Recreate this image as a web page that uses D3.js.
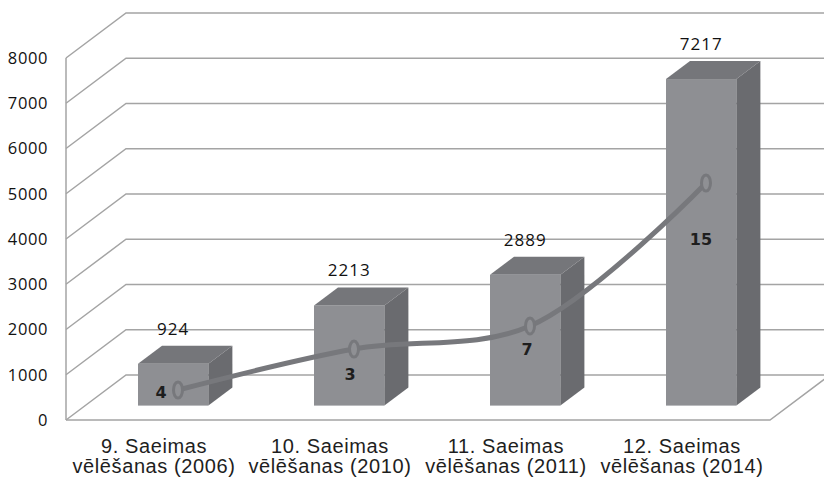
<!DOCTYPE html>
<html>
<head>
<meta charset="utf-8">
<script src="https://cdn.jsdelivr.net/npm/d3@7"></script>
<style>
  html, body { margin: 0; padding: 0; background: #ffffff; }
  svg { display: block; }
</style>
</head>
<body>
<svg id="chart" width="824" height="479"></svg>
<script>
// Election categories (two-line labels)
const categories = [
  ["9. Saeimas", "vēlēšanas (2006)"],
  ["10. Saeimas", "vēlēšanas (2010)"],
  ["11. Saeimas", "vēlēšanas (2011)"],
  ["12. Saeimas", "vēlēšanas (2014)"]
];
// Bar values
const barValues = [924, 2213, 2889, 7217];
// Smoothed trend line, in the same units as the bars
const trendValues = [265, 1170, 1680, 4840];
// Small counts written inside the bars
const innerCounts = [4, 3, 7, 15];
// Value axis ticks
const yTicks = [0, 1000, 2000, 3000, 4000, 5000, 6000, 7000, 8000];

const svg = d3.select("#chart");
const keys = categories.map((c, i) => i);

// Front plane scales
const x = d3.scaleBand().domain(keys).range([66, 770]).paddingInner(0.6).paddingOuter(0.3);
const y = d3.scaleLinear().domain([0, 8000]).range([420, 58]);

// Full depth of the 3-D box
const DX = 60, DY = -45;
const off = f => [f * DX, f * DY];

const gridColor = "#a4a4a4";
const g = svg.append("g");

// Left wall and back wall gridlines
yTicks.forEach(t => {
  const yf = y(t);
  g.append("path")
    .attr("d", `M${66},${yf} L${66 + DX},${yf + DY} L${830},${yf + DY}`)
    .attr("fill", "none").attr("stroke", gridColor).attr("stroke-width", 1.5);
});
// Left vertical axis edge
g.append("line").attr("x1", 66).attr("x2", 66).attr("y1", y(8000)).attr("y2", y(0))
  .attr("stroke", gridColor).attr("stroke-width", 1.5);
// Floor front and right edges
g.append("path")
  .attr("d", `M66,${y(0)} L770,${y(0)} L${770 + DX},${y(0) + DY}`)
  .attr("fill", "none").attr("stroke", gridColor).attr("stroke-width", 1.5);

// Tick labels
svg.append("g").selectAll("text").data(yTicks).join("text")
  .attr("x", 48).attr("y", d => y(d)).attr("dy", "0.35em")
  .attr("text-anchor", "end")
  .style("font-family", "'Open Sans', sans-serif").style("font-size", "16.5px")
  .style("letter-spacing", "0.6px").attr("fill", "#111")
  .text(d => d);

// Bars as boxes
const barFront = 0.32, barDepth = 0.40;
const [fx, fy] = off(barFront);
const [dx, dy] = off(barDepth);
const bw = x.bandwidth();
const bars = svg.append("g");
barValues.forEach((v, i) => {
  const x0 = x(i) + fx, x1 = x0 + bw;
  const yt = y(v) + fy, yb = y(0) + fy;
  // front
  bars.append("rect").attr("x", x0).attr("y", yt).attr("width", bw).attr("height", yb - yt)
    .attr("fill", "#8e8f93");
  // top
  bars.append("path").attr("d", `M${x0},${yt} L${x1},${yt} L${x1 + dx},${yt + dy} L${x0 + dx},${yt + dy}Z`)
    .attr("fill", "#75767a");
  // side
  bars.append("path").attr("d", `M${x1},${yt} L${x1 + dx},${yt + dy} L${x1 + dx},${yb + dy} L${x1},${yb}Z`)
    .attr("fill", "#6a6b6f");
});

// Value labels above the bars
svg.append("g").selectAll("text").data(barValues).join("text")
  .attr("x", (d, i) => x(i) + fx + bw / 2)
  .attr("y", d => y(d) + fy + dy - 11)
  .attr("text-anchor", "middle")
  .style("font-family", "'Open Sans', sans-serif").style("font-size", "17px")
  .style("letter-spacing", "1px").attr("fill", "#111")
  .text(d => d);

// Trend line on the mid plane of the boxes
const [lx, ly] = off(0.40);
const pts = trendValues.map((v, i) => [x(i) + bw / 2 + lx, y(v) + ly]);
const line = d3.line().curve(d3.curveCatmullRom.alpha(0.5));
svg.append("path").attr("d", line(pts))
  .attr("fill", "none").attr("stroke", "#77787c").attr("stroke-width", 5)
  .attr("stroke-linecap", "round");
svg.append("g").selectAll("ellipse").data(pts).join("ellipse")
  .attr("cx", d => d[0]).attr("cy", d => d[1])
  .attr("rx", 4.5).attr("ry", 8)
  .attr("fill", "#8f9094").attr("stroke", "#77787c").attr("stroke-width", 3);

// Counts inside the bars
const countOffsets = [[-17, 8], [-4, 31], [-3, 29], [-5, 62]];
svg.append("g").selectAll("text").data(innerCounts).join("text")
  .attr("x", (d, i) => pts[i][0] + countOffsets[i][0])
  .attr("y", (d, i) => pts[i][1] + countOffsets[i][1])
  .attr("text-anchor", "middle")
  .style("font-family", "'DejaVu Sans', sans-serif").style("font-size", "16px")
  .style("font-weight", "bold").attr("fill", "#1e1e1e")
  .text(d => d);

// Category labels
const cat = svg.append("g").selectAll("text").data(categories).join("text")
  .attr("x", (d, i) => x(i) + bw / 2)
  .attr("text-anchor", "middle")
  .style("font-family", "'Liberation Sans', Arial, sans-serif").style("font-size", "20px")
  .style("letter-spacing", "0.6px").attr("fill", "#1e1e1e");
cat.selectAll("tspan").data(d => d).join("tspan")
  .attr("x", function () { return d3.select(this.parentNode).attr("x"); })
  .attr("y", (d, j) => 453 + j * 20)
  .text(d => d);
</script>
</body>
</html>
